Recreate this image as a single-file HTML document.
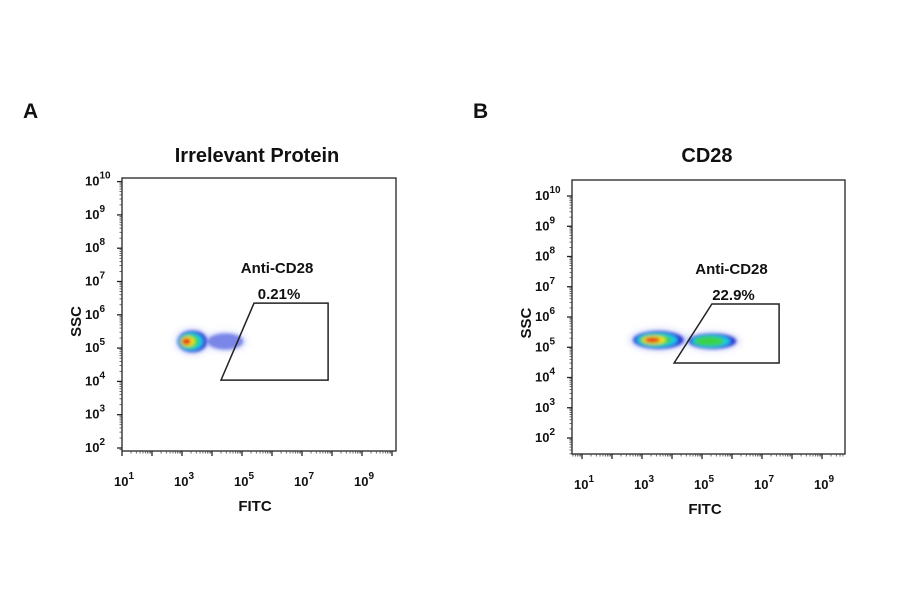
<!DOCTYPE html>
<html><head><meta charset="utf-8"><style>
body{margin:0;background:#fff;width:900px;height:594px;overflow:hidden;font-family:"Liberation Sans",Arial,sans-serif}
svg text{font-family:"Liberation Sans",Arial,sans-serif;font-weight:bold;fill:#111}
</style></head><body>
<svg id="fig" width="900" height="594">
<defs><filter id="soft" x="-50%" y="-50%" width="200%" height="200%"><feGaussianBlur stdDeviation="1.6"/></filter>
<filter id="halo" x="-50%" y="-50%" width="200%" height="200%"><feGaussianBlur stdDeviation="3"/></filter></defs>
</svg>
<script>
// panel data
const panelTitles = ["Irrelevant Protein", "CD28"];
const panelLetters = ["A", "B"];
const gateLabels = ["Anti-CD28", "Anti-CD28"];
const gatePercents = ["0.21%", "22.9%"];
// gate vertices in log10 units [x,y]
const gateA = [[5.4,6.35],[7.87,6.35],[7.87,4.04],[4.3,4.04]];
const gateB = [[5.33,6.43],[7.57,6.43],[7.57,4.48],[4.07,4.48]];
// population clusters: [centerLogX, centerLogY, spreadX(decades), spreadY(decades), peakLevel(0-4)]
const popsA = [[3.35,5.2,0.5,0.33,4],[4.45,5.2,0.6,0.25,0]];
const popsB = [[3.55,5.24,0.85,0.3,4],[5.35,5.2,0.8,0.26,2]];
const xTicks = [1,3,5,7,9];
const yTicks = [2,3,4,5,6,7,8,9,10];

const NS="http://www.w3.org/2000/svg";
const svg=document.getElementById('fig');
function mk(tag,attrs,parent){const e=document.createElementNS(NS,tag);for(const k in attrs)e.setAttribute(k,attrs[k]);(parent||svg).appendChild(e);return e;}
const levelColors=["#2a3cd8","#19c8e6","#3ad24a","#f0e020","#e8241c"];

const panels=[
 {box:[122,178,396,451], x0:122, y2:448, xs:30, ys:33.3, gate:gateA, pops:popsA, cx:257},
 {box:[572,180,845,454], x0:582, y2:438, xs:30, ys:30.25, gate:gateB, pops:popsB, cx:707}
];

panels.forEach((p,i)=>{
 const g=mk('g',{});
 
 
 const X=d=>p.x0+(d-1)*p.xs;
 const Y=d=>p.y2-(d-2)*p.ys;
 const [l,t,r,b]=p.box;
 let e=mk('text',{x:l-99,y:118,'font-size':21},g);e.textContent=panelLetters[i];
 
 e=mk('text',{x:p.cx,y:162,'font-size':20,'text-anchor':'middle'},g);e.textContent=panelTitles[i];
 
 e=mk('rect',{x:l,y:t,width:r-l,height:b-t,fill:'none',stroke:'#222','stroke-width':1.3},g);
 
 // populations
 p.pops.forEach(pp=>{
  const cx=X(pp[0]),cy=Y(pp[1]),rx=pp[2]*p.xs,ry=pp[3]*p.ys;
  const pg=mk('g',{filter:'url(#soft)'},g);
  
  const h=mk('ellipse',{cx:cx,cy:cy,rx:rx*1.15,ry:ry*1.2,fill:'#8090f0',opacity:pp[4]?0.35:0.3,filter:'url(#halo)'},pg);
  for(let k=0;k<=pp[4];k++){
   const f=k?0.8-(k-1)*0.17:1;
   mk('ellipse',{cx:cx-k*1.5,cy:cy,rx:rx*f,ry:ry*f,fill:levelColors[k],opacity:pp[4]?1:0.55},pg);
  }
 });
 // gate
 e=mk('polygon',{points:p.gate.map(v=>X(v[0])+','+Y(v[1])).join(' '),fill:'none',stroke:'#222','stroke-width':1.5},g);
 
 const gcx=(X(p.gate[0][0])+X(p.gate[1][0]))/2;
 e=mk('text',{x:gcx-14,y:Y(p.gate[0][1])-30,'font-size':15,'text-anchor':'middle'},g);e.textContent=gateLabels[i];
 
 e=mk('text',{x:gcx-12,y:Y(p.gate[0][1])-4,'font-size':15,'text-anchor':'middle'},g);e.textContent=gatePercents[i];
 
 // x ticks
 for(let d=1;d<=10;d++){
  if(X(d)<r) mk('line',{x1:X(d),x2:X(d),y1:b,y2:b+5,stroke:'#222','stroke-width':1.3},g);
  for(let m=2;m<10;m++){const xx=X(d-1+Math.log10(m));if(xx>l&&xx<r)mk('line',{x1:xx,x2:xx,y1:b,y2:b+2.5,stroke:'#444','stroke-width':0.8},g);}
 }
 xTicks.forEach(d=>{
  const tx=mk('text',{x:X(d)+2,y:b+35,'font-size':13,'text-anchor':'middle'},g);
  
  tx.appendChild(document.createTextNode('10'));
  const s=mk('tspan',{dy:-7,'font-size':10},tx);s.textContent=String(d);
 });
 yTicks.forEach(d=>{
  mk('line',{x1:l-5,x2:l,y1:Y(d),y2:Y(d),stroke:'#222','stroke-width':1.3},g);
  for(let m=2;m<10;m++){const yy=Y(d-1+Math.log10(m));if(yy>t&&yy<b)mk('line',{x1:l-2.5,x2:l,y1:yy,y2:yy,stroke:'#444','stroke-width':0.8},g);}
  const tx=mk('text',{x:l-37,y:Y(d)+4,'font-size':13},g);
  
  tx.appendChild(document.createTextNode('10'));
  const s=mk('tspan',{dy:-7,'font-size':10},tx);s.textContent=String(d);
 });
 e=mk('text',{x:p.cx-2,y:b+60,'font-size':15,'text-anchor':'middle'},g);e.textContent='FITC';
 
 e=mk('text',{x:0,y:0,'font-size':15,'text-anchor':'middle',transform:`translate(${l-41},${Y(5.8)}) rotate(-90)`},g);e.textContent='SSC';
 
});
</script>
</body></html>
